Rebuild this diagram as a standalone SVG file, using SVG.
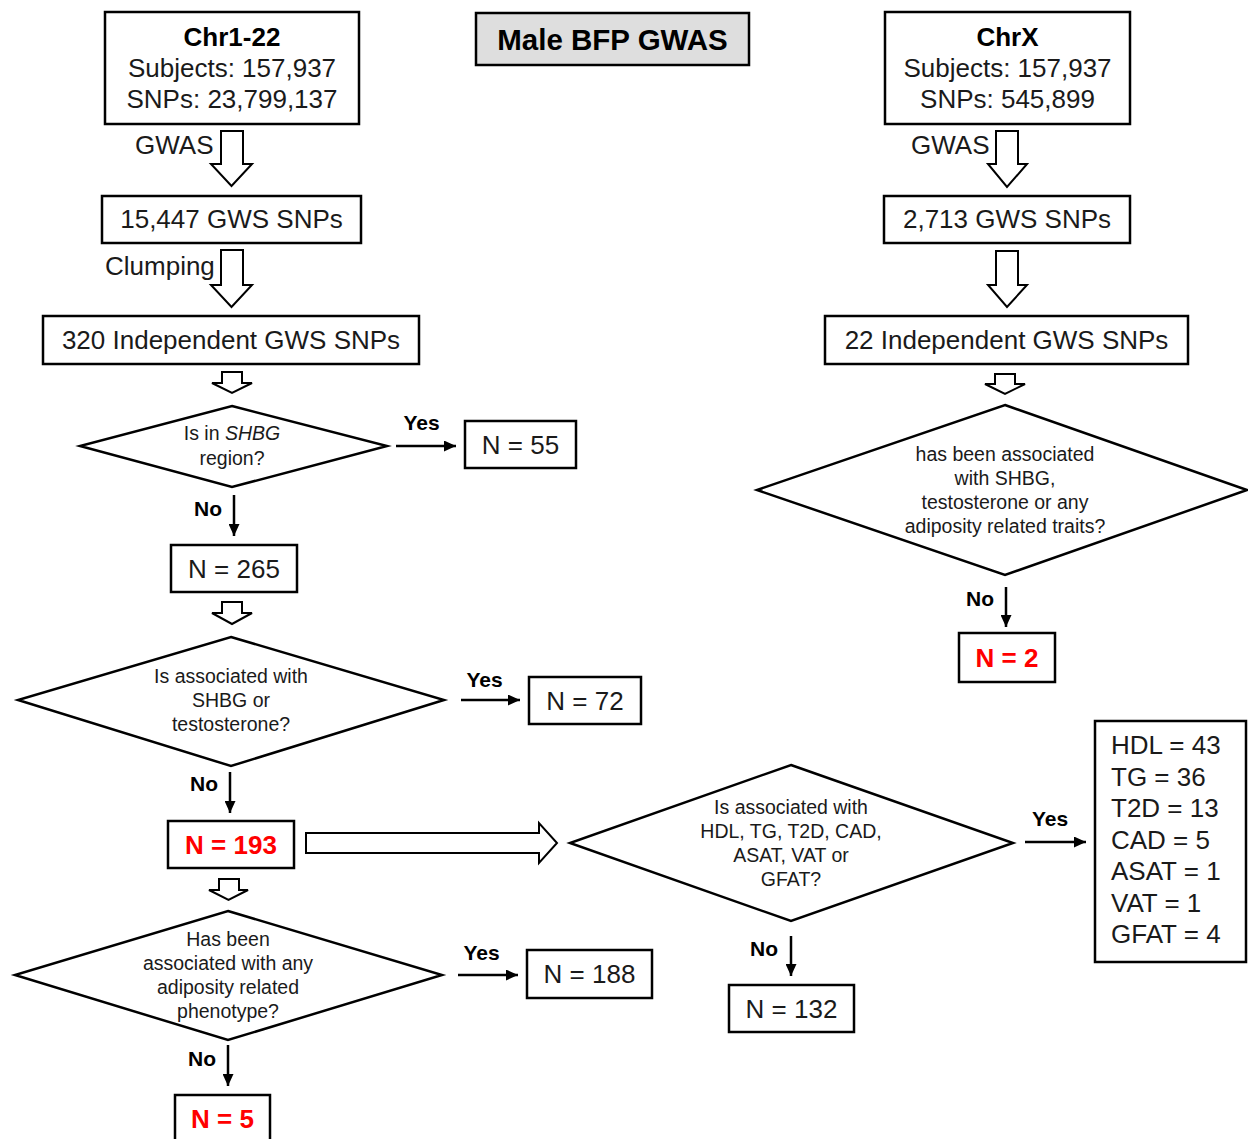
<svg xmlns="http://www.w3.org/2000/svg" width="1248" height="1139" viewBox="0 0 1248 1139">
<defs>
<style>
.box{fill:#fff;stroke:#000;stroke-width:2.5}
.dia{fill:#fff;stroke:#000;stroke-width:2.5;stroke-linejoin:miter}
.hol{fill:#fff;stroke:#000;stroke-width:2;stroke-linejoin:miter}
.ln{stroke:#000;stroke-width:2.5;fill:none}
.t{font-family:"Liberation Sans",Arial,sans-serif;font-size:26px;fill:#1a1a1a;text-anchor:middle}
.tb{font-family:"Liberation Sans",Arial,sans-serif;font-size:26px;font-weight:bold;fill:#000;text-anchor:middle}
.red{font-family:"Liberation Sans",Arial,sans-serif;font-size:26px;font-weight:bold;fill:#ff0000;text-anchor:middle}
.d{font-family:"Liberation Sans",Arial,sans-serif;font-size:19.5px;fill:#1a1a1a;text-anchor:middle}
.yn{font-family:"Liberation Sans",Arial,sans-serif;font-size:21px;font-weight:bold;fill:#000;text-anchor:middle}
.lab{font-family:"Liberation Sans",Arial,sans-serif;font-size:26px;fill:#1a1a1a;text-anchor:start}
</style>
<marker id="ah" markerUnits="userSpaceOnUse" markerWidth="12" markerHeight="11" refX="12" refY="5.5" orient="auto">
<path d="M0,0 L12,5.5 L0,11 z" fill="#000"/>
</marker>
</defs>
<rect width="1248" height="1139" fill="#fff"/>

<g id="title">
<rect x="476" y="13" width="273" height="52" fill="#dedede" stroke="#000" stroke-width="2.5"/>
<text class="tb" x="612.5" y="50" font-size="29.5" style="font-size:29.5px">Male BFP GWAS</text>
</g>

<g id="chr122">
<rect class="box" x="105" y="12" width="254" height="112"/>
<text class="tb" x="232" y="46">Chr1-22</text>
<text class="t" x="232" y="77">Subjects: 157,937</text>
<text class="t" x="232" y="108">SNPs: 23,799,137</text>
</g>

<g id="chrx">
<rect class="box" x="885" y="12" width="245" height="112"/>
<text class="tb" x="1007.5" y="46">ChrX</text>
<text class="t" x="1007.5" y="77">Subjects: 157,937</text>
<text class="t" x="1007.5" y="108">SNPs: 545,899</text>
</g>

<g id="gws_left">
<rect class="box" x="102" y="196" width="259" height="47"/>
<text class="t" x="231.5" y="228">15,447 GWS SNPs</text>
</g>

<g id="gws_right">
<rect class="box" x="884" y="196" width="246" height="47"/>
<text class="t" x="1007" y="228">2,713 GWS SNPs</text>
</g>

<g id="ind_left">
<rect class="box" x="43" y="316" width="376" height="48"/>
<text class="t" x="231" y="349">320 Independent GWS SNPs</text>
</g>

<g id="ind_right">
<rect class="box" x="825" y="316" width="363" height="48"/>
<text class="t" x="1006.5" y="349">22 Independent GWS SNPs</text>
</g>

<g id="dia_shbg">
<polygon class="dia" points="232,406 387,446 232,487 80,446"/>
<text class="d" x="232" y="440">Is in <tspan font-style="italic">SHBG</tspan></text>
<text class="d" x="232" y="465">region?</text>
</g>

<g id="n55">
<rect class="box" x="465" y="421" width="111" height="47"/>
<text class="t" x="520.5" y="454">N = 55</text>
</g>

<g id="n265">
<rect class="box" x="171" y="545" width="126" height="47"/>
<text class="t" x="234" y="578">N = 265</text>
</g>

<g id="dia_assoc">
<polygon class="dia" points="231,637 444,700 231,766 18,700"/>
<text class="d" x="231" y="683">Is associated with</text>
<text class="d" x="231" y="707">SHBG or</text>
<text class="d" x="231" y="731">testosterone?</text>
</g>

<g id="n72">
<rect class="box" x="529" y="677" width="112" height="47"/>
<text class="t" x="585" y="710">N = 72</text>
</g>

<g id="n193">
<rect class="box" x="168" y="821" width="126" height="47"/>
<text class="red" x="231" y="854">N = 193</text>
</g>

<g id="dia_hdl">
<polygon class="dia" points="791,765 1013,843 791,921 570,843"/>
<text class="d" x="791" y="814">Is associated with</text>
<text class="d" x="791" y="838">HDL, TG, T2D, CAD,</text>
<text class="d" x="791" y="862">ASAT, VAT or</text>
<text class="d" x="791" y="886">GFAT?</text>
</g>

<g id="list">
<rect class="box" x="1095" y="721" width="151" height="241"/>
<text class="lab" x="1111" y="754">HDL = 43</text>
<text class="lab" x="1111" y="786">TG = 36</text>
<text class="lab" x="1111" y="817">T2D = 13</text>
<text class="lab" x="1111" y="849">CAD = 5</text>
<text class="lab" x="1111" y="880">ASAT = 1</text>
<text class="lab" x="1111" y="912">VAT = 1</text>
<text class="lab" x="1111" y="943">GFAT = 4</text>
</g>

<g id="n132">
<rect class="box" x="729" y="985" width="125" height="47"/>
<text class="t" x="791.5" y="1018">N = 132</text>
</g>

<g id="dia_adip">
<polygon class="dia" points="228,911 442,975 228,1040 15,975"/>
<text class="d" x="228" y="946">Has been</text>
<text class="d" x="228" y="970">associated with any</text>
<text class="d" x="228" y="994">adiposity related</text>
<text class="d" x="228" y="1018">phenotype?</text>
</g>

<g id="n188">
<rect class="box" x="527" y="950" width="125" height="48"/>
<text class="t" x="589.5" y="983">N = 188</text>
</g>

<g id="n5">
<rect class="box" x="175" y="1095" width="95" height="60"/>
<text class="red" x="222.5" y="1128">N = 5</text>
</g>

<g id="dia_x">
<polygon class="dia" points="1005,405 1247,490 1005,575 757,490"/>
<text class="d" x="1005" y="461">has been associated</text>
<text class="d" x="1005" y="485">with SHBG,</text>
<text class="d" x="1005" y="509">testosterone or any</text>
<text class="d" x="1005" y="533">adiposity related traits?</text>
</g>

<g id="n2">
<rect class="box" x="959" y="633" width="96" height="49"/>
<text class="red" x="1007" y="667">N = 2</text>
</g>

<g id="connectors">
<!-- hollow arrows -->
<polygon class="hol" points="221,131 243,131 243,164 252,164 231.5,186 211,164 221,164"/>
<polygon class="hol" points="221,250 243,250 243,285 252,285 231.5,307 211,285 221,285"/>
<polygon class="hol" points="222,372 242,372 242,383 252,383 232,393 212,383 222,383"/>
<polygon class="hol" points="222,602 242,602 242,613 252,613 232,624 212,613 222,613"/>
<polygon class="hol" points="219,879 239,879 239,890 248,890 228.5,900 209,890 219,890"/>
<polygon class="hol" points="996,131 1018,131 1018,164 1027,164 1007,187 988,164 996,164"/>
<polygon class="hol" points="996,251 1018,251 1018,285 1027,285 1007,307 988,285 996,285"/>
<polygon class="hol" points="995,374 1015,374 1015,384 1025,384 1005,394 985,384 995,384"/>
<polygon class="hol" points="306,833 539,833 539,823 557,843 539,863 539,853 306,853"/>
<text class="lab" x="135" y="154">GWAS</text>
<text class="lab" x="105" y="275">Clumping</text>
<text class="lab" x="911" y="154">GWAS</text>

<!-- yes/no arrows -->
<line class="ln" x1="396" y1="446" x2="456" y2="446" marker-end="url(#ah)"/>
<text class="yn" x="421.5" y="430">Yes</text>
<line class="ln" x1="234" y1="495" x2="234" y2="536" marker-end="url(#ah)"/>
<text class="yn" x="208" y="516">No</text>

<line class="ln" x1="461" y1="700" x2="520" y2="700" marker-end="url(#ah)"/>
<text class="yn" x="484.5" y="687">Yes</text>
<line class="ln" x1="230" y1="772" x2="230" y2="813" marker-end="url(#ah)"/>
<text class="yn" x="204" y="791">No</text>

<line class="ln" x1="1025" y1="842" x2="1086" y2="842" marker-end="url(#ah)"/>
<text class="yn" x="1050" y="826">Yes</text>
<line class="ln" x1="791" y1="936" x2="791" y2="976" marker-end="url(#ah)"/>
<text class="yn" x="764" y="956">No</text>

<line class="ln" x1="458" y1="975" x2="518" y2="975" marker-end="url(#ah)"/>
<text class="yn" x="481.5" y="960">Yes</text>
<line class="ln" x1="228" y1="1045" x2="228" y2="1086" marker-end="url(#ah)"/>
<text class="yn" x="202" y="1066">No</text>

<line class="ln" x1="1006" y1="587" x2="1006" y2="627" marker-end="url(#ah)"/>
<text class="yn" x="980" y="606">No</text>
</g>
</svg>
